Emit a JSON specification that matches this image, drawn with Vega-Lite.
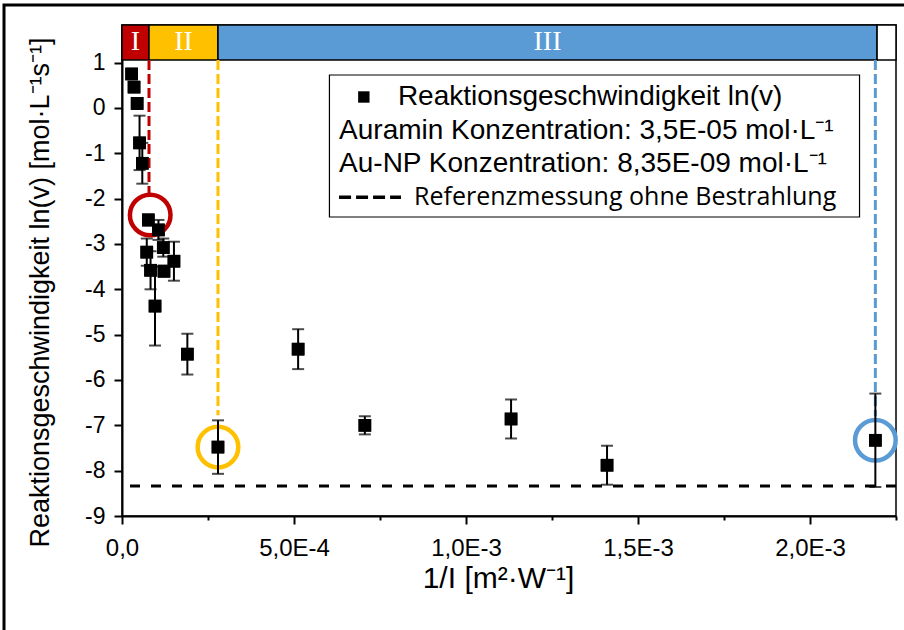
{
  "$schema": "https://vega.github.io/schema/vega-lite/v6.json",
  "width": 774,
  "height": 491,
  "autosize": {"type": "none"},
  "padding": {"left": 122, "top": 25, "right": 8, "bottom": 114},
  "background": "white",
  "config": {
    "view": {"stroke": "black", "strokeWidth": 1.5},
    "font": "Liberation Sans",
    "axis": {"domainColor": "black", "domainWidth": 2, "tickColor": "black", "tickWidth": 2, "labelColor": "black", "titleColor": "black", "labelFont": "Liberation Sans", "titleFont": "Liberation Sans", "grid": false, "titleFontWeight": "normal"}
  },
  "datasets": {
    "points": [
      {"x": 0.000028, "v": 0.75, "err": 0.08},
      {"x": 0.000035, "v": 0.46, "err": 0.1},
      {"x": 0.000044, "v": 0.10, "err": 0.12},
      {"x": 0.000051, "v": -0.77, "err": 0.6},
      {"x": 0.000059, "v": -1.22, "err": 0.45},
      {"x": 0.0000765, "v": -2.47, "err": 0.12},
      {"x": 0.000106, "v": -2.69, "err": 0.22},
      {"x": 0.00012, "v": -3.08, "err": 0.2},
      {"x": 0.000072, "v": -3.18, "err": 0.3},
      {"x": 0.000083, "v": -3.58, "err": 0.42},
      {"x": 0.000122, "v": -3.6, "err": 0.12},
      {"x": 0.000151, "v": -3.38, "err": 0.43},
      {"x": 0.000096, "v": -4.37, "err": 0.87},
      {"x": 0.00019, "v": -5.43, "err": 0.45},
      {"x": 0.000279, "v": -7.48, "err": 0.59},
      {"x": 0.000512, "v": -5.32, "err": 0.44},
      {"x": 0.000706, "v": -7.0, "err": 0.2},
      {"x": 0.001131, "v": -6.86, "err": 0.43},
      {"x": 0.00141, "v": -7.88, "err": 0.43},
      {"x": 0.00219, "v": -7.33, "err": 1.03}
    ],
    "band": [
      {"region": "I", "x0": 0, "x1": 0.0000785, "xm": 0.000039, "label": "I"},
      {"region": "II", "x0": 0.0000785, "x1": 0.000279, "xm": 0.000179, "label": "II"},
      {"region": "III", "x0": 0.000279, "x1": 0.002195, "xm": 0.001237, "label": "III"},
      {"region": "end", "x0": 0.002195, "x1": 0.00225, "xm": 0.00222, "label": ""}
    ],
    "vlines": [
      {"region": "I", "x": 0.0000785, "ytop": 1.06, "ybot": -1.9},
      {"region": "II", "x": 0.000279, "ytop": 1.06, "ybot": -6.78},
      {"region": "III", "x": 0.00219, "ytop": 1.06, "ybot": -6.8}
    ],
    "circles": [
      {"region": "I", "x": 0.000082, "v": -2.36},
      {"region": "II", "x": 0.000279, "v": -7.48},
      {"region": "III", "x": 0.00219, "v": -7.33}
    ],
    "legendText": [
      {"kind": "main", "x": 0.000802, "v": 0.242, "text": "Reaktionsgeschwindigkeit ln(v)"},
      {"kind": "main", "x": 0.000631, "v": -0.508, "text": "Auramin Konzentration: 3,5E-05 mol·L⁻¹"},
      {"kind": "main", "x": 0.000631, "v": -1.23, "text": "Au-NP Konzentration: 8,35E-09 mol·L⁻¹"},
      {"kind": "ref", "x": 0.000849, "v": -1.97, "text": "Referenzmessung ohne Bestrahlung"}
    ],
    "one": [{}]
  },
  "layer": [
    {
      "data": {"name": "points"},
      "mark": {"type": "point", "shape": "square", "filled": true, "color": "black", "size": 160, "opacity": 1},
      "encoding": {
        "x": {
          "field": "x", "type": "quantitative",
          "scale": {"domain": [0, 0.00225], "nice": false, "zero": false},
          "axis": {
            "title": "1/I [m²·W⁻¹]",
            "values": [0, 0.00025, 0.0005, 0.00075, 0.001, 0.00125, 0.0015, 0.00175, 0.002, 0.00225],
            "labelExpr": "datum.value == 0 ? '0,0' : (round(datum.value * 10000) % 5 == 0 ? replace(upper(format(datum.value, '.1e')), '.', ',') : '')",
            "tickSize": {"condition": {"test": "round(datum.value * 10000) % 5 == 0", "value": 8}, "value": 4},
            "labelFontSize": 24,
            "titleFontSize": 30,
            "labelPadding": 12,
            "titlePadding": 3,
            "titleX": 376,
            "labelFlush": false,
            "labelOverlap": false
          }
        },
        "y": {
          "field": "v", "type": "quantitative",
          "scale": {"domain": [-9, 1.83], "nice": false, "zero": false},
          "axis": {
            "title": "Reaktionsgeschwindigkeit ln(v) [mol·L⁻¹s⁻¹]",
            "values": [-9, -8.5, -8, -7.5, -7, -6.5, -6, -5.5, -5, -4.5, -4, -3.5, -3, -2.5, -2, -1.5, -1, -0.5, 0, 0.5, 1],
            "labelExpr": "datum.value % 1 == 0 ? '' + datum.value : ''",
            "tickSize": {"condition": {"test": "datum.value % 1 != 0", "value": 4}, "value": 8},
            "labelFontSize": 23,
            "titleFontSize": 27,
            "labelPadding": 9,
            "titlePadding": 30,
            "titleY": 267,
            "labelOverlap": false
          }
        }
      }
    },
    {
      "data": {"name": "one"},
      "mark": {"type": "rect", "fill": "transparent", "stroke": "black", "strokeWidth": 3, "clip": false},
      "encoding": {
        "x": {"datum": -0.000343, "scale": {"domain": [0, 0.00225], "nice": false, "zero": false}},
        "x2": {"datum": 0.00229},
        "y": {"datum": 2.27, "scale": {"domain": [-9, 1.83], "nice": false, "zero": false}},
        "y2": {"datum": -11.7}
      }
    },
    {
      "data": {"name": "band"},
      "mark": {"type": "rect", "stroke": "black", "strokeWidth": 1.5},
      "encoding": {
        "x": {"field": "x0", "type": "quantitative", "scale": {"domain": [0, 0.00225], "nice": false, "zero": false}},
        "x2": {"field": "x1"},
        "y": {"datum": 1.83, "scale": {"domain": [-9, 1.83], "nice": false, "zero": false}},
        "y2": {"datum": 1.06},
        "fill": {"field": "region", "type": "nominal", "scale": {"domain": ["I", "II", "III", "end"], "range": ["#c00000", "#ffc000", "#5b9bd5", "#ffffff"]}, "legend": null}
      }
    },
    {
      "data": {"name": "band"},
      "mark": {"type": "text", "font": "Liberation Serif", "fontSize": 28, "color": "white", "baseline": "middle", "align": "center"},
      "encoding": {
        "x": {"field": "xm", "type": "quantitative", "scale": {"domain": [0, 0.00225], "nice": false, "zero": false}},
        "y": {"datum": 1.445, "scale": {"domain": [-9, 1.83], "nice": false, "zero": false}},
        "text": {"field": "label"}
      }
    },
    {
      "data": {"name": "vlines"},
      "mark": {"type": "rule", "strokeDash": [10, 4], "strokeWidth": 3},
      "encoding": {
        "x": {"field": "x", "type": "quantitative", "scale": {"domain": [0, 0.00225], "nice": false, "zero": false}},
        "y": {"field": "ytop", "type": "quantitative", "scale": {"domain": [-9, 1.83], "nice": false, "zero": false}},
        "y2": {"field": "ybot"},
        "stroke": {"field": "region", "type": "nominal", "scale": {"domain": ["I", "II", "III", "end"], "range": ["#c00000", "#ffc000", "#5b9bd5", "#ffffff"]}, "legend": null}
      }
    },
    {
      "data": {"name": "one"},
      "mark": {"type": "rule", "strokeDash": [10, 11], "strokeWidth": 3, "color": "black"},
      "encoding": {
        "y": {"datum": -8.34, "scale": {"domain": [-9, 1.83], "nice": false, "zero": false}}
      }
    },
    {
      "data": {"name": "circles"},
      "mark": {"type": "point", "shape": "circle", "filled": false, "strokeWidth": 4.5, "size": 1650, "clip": false, "opacity": 1},
      "encoding": {
        "x": {"field": "x", "type": "quantitative", "scale": {"domain": [0, 0.00225], "nice": false, "zero": false}},
        "y": {"field": "v", "type": "quantitative", "scale": {"domain": [-9, 1.83], "nice": false, "zero": false}},
        "stroke": {"field": "region", "type": "nominal", "scale": {"domain": ["I", "II", "III", "end"], "range": ["#c00000", "#ffc000", "#5b9bd5", "#ffffff"]}, "legend": null}
      }
    },
    {
      "data": {"name": "points"},
      "mark": {"type": "errorbar", "color": "black", "ticks": {"size": 12, "thickness": 2, "color": "black"}, "rule": {"strokeWidth": 2, "color": "black"}},
      "encoding": {
        "x": {"field": "x", "type": "quantitative", "title": "1/I [m²·W⁻¹]", "scale": {"domain": [0, 0.00225], "nice": false, "zero": false}},
        "y": {"field": "v", "type": "quantitative", "title": "Reaktionsgeschwindigkeit ln(v) [mol·L⁻¹s⁻¹]", "scale": {"domain": [-9, 1.83], "nice": false, "zero": false}},
        "yError": {"field": "err"}
      }
    },
    {
      "data": {"name": "points"},
      "mark": {"type": "point", "shape": "square", "filled": true, "color": "black", "size": 160, "opacity": 1},
      "encoding": {
        "x": {"field": "x", "type": "quantitative", "scale": {"domain": [0, 0.00225], "nice": false, "zero": false}},
        "y": {"field": "v", "type": "quantitative", "scale": {"domain": [-9, 1.83], "nice": false, "zero": false}}
      }
    },
    {
      "data": {"name": "one"},
      "mark": {"type": "rect", "fill": "white", "stroke": "black", "strokeWidth": 1.2},
      "encoding": {
        "x": {"datum": 0.000603, "scale": {"domain": [0, 0.00225], "nice": false, "zero": false}},
        "x2": {"datum": 0.002144},
        "y": {"datum": 0.727, "scale": {"domain": [-9, 1.83], "nice": false, "zero": false}},
        "y2": {"datum": -2.405}
      }
    },
    {
      "data": {"name": "one"},
      "mark": {"type": "point", "shape": "square", "filled": true, "color": "black", "size": 130, "opacity": 1},
      "encoding": {
        "x": {"datum": 0.000703, "scale": {"domain": [0, 0.00225], "nice": false, "zero": false}},
        "y": {"datum": 0.242, "scale": {"domain": [-9, 1.83], "nice": false, "zero": false}}
      }
    },
    {
      "data": {"name": "one"},
      "mark": {"type": "rule", "strokeDash": [12, 5], "strokeWidth": 3.5, "color": "black"},
      "encoding": {
        "x": {"datum": 0.000631, "scale": {"domain": [0, 0.00225], "nice": false, "zero": false}},
        "x2": {"datum": 0.000811},
        "y": {"datum": -1.97, "scale": {"domain": [-9, 1.83], "nice": false, "zero": false}}
      }
    },
    {
      "data": {"name": "legendText"},
      "transform": [{"filter": "datum.kind == 'main'"}],
      "mark": {"type": "text", "font": "Liberation Sans", "fontSize": 28, "color": "black", "align": "left", "baseline": "middle"},
      "encoding": {
        "x": {"field": "x", "type": "quantitative", "scale": {"domain": [0, 0.00225], "nice": false, "zero": false}},
        "y": {"field": "v", "type": "quantitative", "scale": {"domain": [-9, 1.83], "nice": false, "zero": false}},
        "text": {"field": "text"}
      }
    },
    {
      "data": {"name": "legendText"},
      "transform": [{"filter": "datum.kind == 'ref'"}],
      "mark": {"type": "text", "font": "Open Sans", "fontSize": 25, "color": "black", "align": "left", "baseline": "middle"},
      "encoding": {
        "x": {"field": "x", "type": "quantitative", "scale": {"domain": [0, 0.00225], "nice": false, "zero": false}},
        "y": {"field": "v", "type": "quantitative", "scale": {"domain": [-9, 1.83], "nice": false, "zero": false}},
        "text": {"field": "text"}
      }
    }
  ]
}
